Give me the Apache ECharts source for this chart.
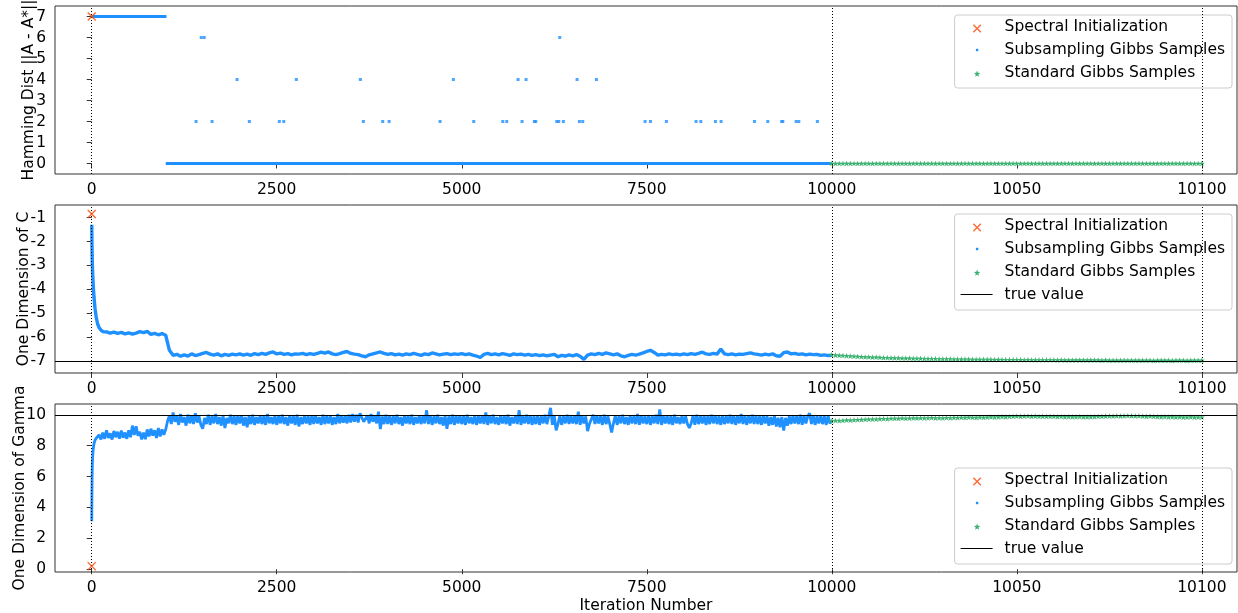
<!DOCTYPE html>
<html>
<head>
<meta charset="utf-8">
<script src="https://cdn.jsdelivr.net/npm/echarts@6.0.0/dist/echarts.min.js"></script>
<style>
html,body{margin:0;padding:0;background:#fff;}
#chart{width:1238px;height:613px;}
</style>
</head>
<body>
<div id="chart"></div>
<script>
// ---------------- data ----------------
const xTickLabels = [0, 2500, 5000, 7500, 10000, 10050, 10100];
const breakAt = 10000;      // iteration where the axis switches scale
const zoomFactor = 50;      // right-hand section is stretched 50x
const refLines = [0, 10000, 10100];
const seriesNames = ['Spectral Initialization', 'Subsampling Gibbs Samples', 'Standard Gibbs Samples', 'true value'];

// Panel 1: Hamming distance
const hamTicks = [0, 1, 2, 3, 4, 5, 6, 7];
const hamInit = [[0, 7]];
const hamRuns = [[0, 1010, 7], [1000, 10000, 0]];
const hamOutliers = [[1410,2],[1480,6],[1520,6],[1626,2],[1964,4],[2130,2],[2535,2],[2595,2],[2765,4],[3630,4],[3670,2],[3932,2],[4018,2],[4707,2],[4887,4],[5162,2],[5554,2],[5608,2],[5761,4],[5815,2],[5869,4],[5981,2],[6000,2],[6284,2],[6311,2],[6324,6],[6373,2],[6558,4],[6590,2],[6635,2],[6820,4],[7477,2],[7549,2],[7765,2],[8166,2],[8230,2],[8427,2],[8504,2],[8955,2],[9135,2],[9324,2],[9338,2],[9518,2],[9554,2],[9805,2]];
const stdStart = 10000;
const hamStd = [
  0,0,0,0,0,0,0,0,0,0, 0,0,0,0,0,0,0,0,0,0, 0,0,0,0,0,0,0,0,0,0, 0,0,0,0,0,0,0,0,0,0,
  0,0,0,0,0,0,0,0,0,0, 0,0,0,0,0,0,0,0,0,0, 0,0,0,0,0,0,0,0,0,0, 0,0,0,0,0,0,0,0,0,0,
  0,0,0,0,0,0,0,0,0,0, 0,0,0,0,0,0,0,0,0,0, 0
];

// Panel 2: one dimension of C
const cTicks = [-7, -6, -5, -4, -3, -2, -1];
const cInit = [[0, -0.85]];
const cTrue = -7;
const cEarly = [[1,-1.3],[2,-1.6],[3,-1.9],[4,-2.2],[6,-2.6],[9,-3.0],[14,-3.4],[20,-3.8],[30,-4.3],[45,-4.8],[60,-5.15],[80,-5.45],[100,-5.6],[130,-5.72],[160,-5.78]];
const cStart = 200, cStep = 50;
const cBlue = [
  -5.78,-5.83,-5.79,-5.84,-5.80,-5.86,-5.82,-5.87,-5.83,-5.77,-5.81,-5.76,-5.88,-5.84,-5.90,-5.85,
  -5.92,-6.55,-6.76,-6.72,-6.80,-6.74,-6.79,-6.70,-6.77,-6.73,-6.68,-6.64,-6.71,-6.75,-6.70,-6.78,-6.72,-6.76,-6.71,-6.74,
  -6.70,-6.75,-6.71,-6.76,-6.69,-6.73,-6.68,-6.72,-6.66,-6.62,-6.70,-6.67,-6.72,-6.69,-6.74,-6.70,-6.71,-6.68,-6.73,-6.69,
  -6.72,-6.68,-6.63,-6.67,-6.62,-6.70,-6.73,-6.69,-6.64,-6.60,-6.68,-6.71,-6.73,-6.78,-6.82,-6.74,-6.70,-6.66,-6.62,-6.68,
  -6.72,-6.69,-6.74,-6.71,-6.75,-6.70,-6.73,-6.68,-6.72,-6.76,-6.70,-6.73,-6.66,-6.70,-6.74,-6.71,-6.69,-6.73,-6.70,-6.72,
  -6.69,-6.73,-6.70,-6.75,-6.79,-6.85,-6.72,-6.68,-6.73,-6.70,-6.74,-6.69,-6.72,-6.76,-6.70,-6.73,-6.71,-6.75,-6.72,-6.76,
  -6.73,-6.77,-6.74,-6.78,-6.75,-6.72,-6.82,-6.76,-6.79,-6.74,-6.78,-6.73,-6.80,-6.93,-6.75,-6.70,-6.73,-6.68,-6.72,-6.66,
  -6.70,-6.74,-6.70,-6.78,-6.82,-6.76,-6.72,-6.75,-6.71,-6.66,-6.60,-6.55,-6.64,-6.75,-6.72,-6.74,-6.70,-6.73,-6.71,-6.74,
  -6.70,-6.73,-6.69,-6.72,-6.68,-6.63,-6.70,-6.72,-6.68,-6.71,-6.50,-6.70,-6.73,-6.70,-6.74,-6.71,-6.72,-6.69,-6.66,-6.70,
  -6.72,-6.75,-6.71,-6.74,-6.70,-6.78,-6.80,-6.65,-6.62,-6.70,-6.68,-6.72,-6.70,-6.74,-6.71,-6.73,-6.72,-6.76,-6.74,-6.77,
  -6.76
];
const cStd = [
  -6.73,-6.75,-6.76,-6.77,-6.78,-6.79,-6.80,-6.81,-6.82,-6.83,
  -6.83,-6.84,-6.84,-6.85,-6.86,-6.86,-6.87,-6.87,-6.87,-6.88,
  -6.88,-6.88,-6.89,-6.89,-6.89,-6.90,-6.90,-6.90,-6.90,-6.91,
  -6.91,-6.91,-6.91,-6.92,-6.92,-6.92,-6.92,-6.92,-6.93,-6.93,
  -6.93,-6.93,-6.93,-6.93,-6.94,-6.93,-6.94,-6.94,-6.94,-6.94,
  -6.94,-6.94,-6.95,-6.94,-6.95,-6.95,-6.95,-6.95,-6.95,-6.95,
  -6.95,-6.96,-6.95,-6.96,-6.96,-6.96,-6.96,-6.96,-6.96,-6.96,
  -6.96,-6.96,-6.96,-6.97,-6.96,-6.97,-6.97,-6.97,-6.97,-6.97,
  -6.97,-6.97,-6.97,-6.97,-6.97,-6.97,-6.97,-6.98,-6.97,-6.97,
  -6.97,-6.97,-6.98,-6.97,-6.97,-6.97,-6.98,-6.97,-6.97,-6.97,
  -6.97
];

// Panel 3: one dimension of Gamma
const gTicks = [0, 2, 4, 6, 8, 10];
const gInit = [[0, 0.2]];
const gTrue = 10;
const gEarly = [[1,3.1],[2,4.0],[3,4.7],[4,5.3],[5,5.8],[6,6.2],[8,6.6],[10,7.0],[13,7.3],[17,7.6],[22,7.85],[30,8.1],[40,8.3],[55,8.45],[75,8.55]];
const gStart = 100, gStep = 25;
const gBlue = [
  8.70,8.40,8.85,8.45,9.00,8.50,8.80,8.40,8.95,8.55,8.90,8.45,8.98,8.52,8.85,8.45,
  9.00,8.55,9.30,8.70,9.25,8.65,8.90,8.40,8.85,8.42,9.05,8.60,9.10,8.65,9.00,8.50,9.15,8.60,9.05,8.70,
  9.05,9.60,9.95,9.40,10.15,9.55,9.90,9.35,10.05,9.50,9.85,9.30,10.00,9.45,9.95,9.40,10.10,9.50,9.90,9.35,
  9.10,9.80,9.40,10.00,9.35,9.90,9.45,10.05,9.40,9.85,9.30,9.95,9.15,9.80,9.45,10.00,9.40,9.90,9.35,9.95,
  9.45,9.95,9.30,9.85,9.20,9.90,9.40,10.00,9.35,9.85,9.45,9.95,9.40,9.90,9.35,10.05,9.45,9.85,9.40,9.95,
  9.35,9.90,9.45,10.00,9.40,9.85,9.30,9.95,9.45,9.90,9.35,10.00,9.25,9.85,9.40,9.95,9.45,9.90,9.35,9.95,
  9.40,9.95,9.45,9.85,9.35,10.00,9.40,9.90,9.45,9.95,9.35,9.85,9.40,10.05,9.45,9.90,9.50,9.95,9.45,10.00,
  9.50,10.05,9.55,10.00,9.50,10.10,10.20,9.55,9.50,9.95,9.45,10.05,9.55,9.95,9.45,10.20,9.07,9.90,9.40,10.00,
  9.40,9.95,9.35,9.90,9.45,10.00,9.40,9.85,9.30,9.95,9.45,9.90,9.40,10.00,9.35,9.85,9.45,9.95,9.40,9.90,
  9.45,10.30,9.40,9.95,9.35,9.90,9.45,10.00,9.40,9.85,9.30,9.95,9.10,9.90,9.40,10.00,9.35,9.90,9.45,9.95,
  9.40,9.90,9.35,10.00,9.45,9.85,9.40,9.95,9.35,9.90,9.45,9.95,9.40,10.15,9.35,9.90,9.45,10.00,9.40,9.85,
  9.35,9.95,9.45,9.90,9.40,10.00,9.30,9.85,9.45,9.95,9.40,10.30,9.35,9.90,9.45,10.00,9.40,9.95,9.35,9.90,
  9.40,9.95,9.35,9.90,9.45,10.00,9.40,9.90,10.45,9.35,9.95,9.00,9.40,9.95,9.35,9.90,9.45,10.00,9.40,9.95,
  9.45,9.90,9.40,10.20,9.35,9.95,9.45,9.90,8.95,9.40,9.35,10.00,9.40,9.95,9.45,9.90,9.35,10.00,9.40,9.90,
  9.40,8.85,9.45,9.95,9.35,9.90,9.45,10.00,9.40,9.85,9.35,9.95,9.45,9.90,9.40,10.05,9.35,9.95,9.45,9.90,
  9.40,9.95,9.35,9.90,9.45,10.00,9.40,10.35,9.35,9.90,9.45,9.95,9.40,9.90,9.35,10.00,9.45,9.85,9.40,9.95,
  9.45,9.90,9.40,9.15,9.45,9.95,9.35,10.00,9.40,9.90,9.45,9.95,9.35,9.90,9.40,10.00,9.45,9.95,9.40,9.90,
  9.35,9.95,9.40,9.90,9.45,10.00,9.40,9.95,9.35,9.90,9.45,10.05,9.40,9.95,9.35,9.90,9.45,10.00,9.40,9.95,
  9.40,9.90,9.35,9.95,9.45,9.90,9.30,9.85,9.35,9.95,9.25,9.80,9.20,9.85,8.98,9.80,9.30,9.90,9.40,9.95,
  9.45,9.90,9.40,10.00,9.35,9.95,9.45,9.90,10.10,9.40,9.95,9.35,9.90,9.45,9.95,9.40,9.90,9.35,9.95,9.45,
  9.60
];
const gStd = [
  9.61,9.63,9.62,9.64,9.66,9.65,9.67,9.68,9.69,9.70,
  9.71,9.72,9.72,9.74,9.75,9.74,9.76,9.77,9.76,9.78,
  9.77,9.78,9.79,9.78,9.80,9.79,9.80,9.81,9.79,9.80,
  9.79,9.81,9.80,9.82,9.81,9.83,9.82,9.84,9.83,9.82,
  9.84,9.83,9.85,9.86,9.85,9.87,9.88,9.87,9.89,9.90,
  9.91,9.90,9.91,9.92,9.90,9.91,9.89,9.90,9.89,9.90,
  9.89,9.88,9.89,9.87,9.88,9.87,9.86,9.88,9.87,9.86,
  9.87,9.88,9.89,9.90,9.91,9.92,9.91,9.93,9.92,9.93,
  9.94,9.93,9.92,9.93,9.91,9.90,9.91,9.89,9.88,9.87,
  9.88,9.86,9.87,9.85,9.86,9.84,9.85,9.86,9.84,9.85,
  9.85
];

// ---------------- helpers ----------------
const FONT = 'DejaVu Sans';
const FS = 15.5;
const BLUE = '#1E90FF', GREEN = '#3CB371', RED = '#FF4500';
const T = x => (x <= breakAt ? x : breakAt + (x - breakAt) * zoomFactor);
const labelOf = {};
xTickLabels.forEach(v => { labelOf[T(v)] = String(v); });

function crossPath(cx, cy, a, e) {
  const p = [[cx-a,cy-a+e],[cx-a+e,cy-a],[cx,cy-e],[cx+a-e,cy-a],[cx+a,cy-a+e],[cx+e,cy],
             [cx+a,cy+a-e],[cx+a-e,cy+a],[cx,cy+e],[cx-a+e,cy+a],[cx-a,cy+a-e],[cx-e,cy]];
  return 'M' + p.map(q => q[0].toFixed(2) + ',' + q[1].toFixed(2)).join('L') + 'Z';
}
function starPath(cx, cy, R, r) {
  let s = '';
  for (let k = 0; k < 10; k++) {
    const ang = -Math.PI / 2 + k * Math.PI / 5;
    const rad = k % 2 === 0 ? R : r;
    s += (k === 0 ? 'M' : 'L') + (cx + rad * Math.cos(ang)).toFixed(2) + ',' + (cy + rad * Math.sin(ang)).toFixed(2);
  }
  return s + 'Z';
}
const X_SYMBOL = 'path://' + crossPath(5, 5, 5, 1.1);
const STAR_SYMBOL = 'path://' + starPath(10, 10, 10, 4);
const BOX = 'M0,0M45,20';
const legendIcons = {
  'Spectral Initialization': 'path://' + BOX + crossPath(22.5, 11.5, 4.2, 1.0),
  'Subsampling Gibbs Samples': 'path://' + BOX + 'M21.3,8.8L23.7,8.8L23.7,11.2L21.3,11.2Z',
  'Standard Gibbs Samples': 'path://' + BOX + starPath(22.5, 11, 3.4, 1.4),
  'true value': 'path://' + BOX + 'M6,8.9L38,8.9L38,10.1L6,10.1Z'
};

const seq = (start, step, vals) => vals.map((v, i) => [T(start + i * step), v]);
const pts = arr => arr.map(p => [T(p[0]), p[1]]);

const grids = [
  {left: 55, right: 1, top: 6, height: 168},
  {left: 55, right: 1, top: 205, height: 168},
  {left: 55, right: 1, top: 404, height: 168}
].map(g => Object.assign(g, {show: true, borderColor: '#333', borderWidth: 1, backgroundColor: 'transparent',
                             containLabel: false, outerBoundsMode: 'none'}));

const xMin = T(-496), xMax = T(10109.5);
const xTickPos = xTickLabels.map(T);

function xAxisFor(i) {
  return {
    type: 'value', gridIndex: i, min: xMin, max: xMax,
    axisLine: {show: false}, splitLine: {show: false},
    axisTick: {show: true, length: 5, lineStyle: {color: '#333'}, customValues: xTickPos},
    axisLabel: {customValues: xTickPos, formatter: v => labelOf[v] !== undefined ? labelOf[v] : '',
                fontSize: FS, color: '#000', fontFamily: FONT, margin: 8},
    name: i === 2 ? 'Iteration Number' : '', nameLocation: 'middle', nameGap: 26, nameMoveOverlap: false,
    nameTextStyle: {fontSize: FS, color: '#000', fontFamily: FONT}
  };
}
function yAxisFor(i, ticks, min, max, name, gap) {
  return {
    type: 'value', gridIndex: i, min: min, max: max,
    name: name, nameLocation: 'middle', nameGap: gap, nameRotate: 90, nameMoveOverlap: false,
    nameTextStyle: {fontSize: FS, color: '#000', fontFamily: FONT},
    axisLine: {show: false}, splitLine: {show: false},
    axisTick: {show: true, length: 5, lineStyle: {color: '#333'}, customValues: ticks},
    axisLabel: {customValues: ticks, fontSize: FS, color: '#000', fontFamily: FONT, margin: 9}
  };
}
function vLines() {
  return {silent: true, symbol: 'none', animation: false, label: {show: false},
          emphasis: {disabled: true},
          lineStyle: {color: '#000', type: [1, 2], width: 1},
          data: refLines.map(v => ({xAxis: T(v)}))};
}
function trueLine(i, v) {
  return {name: 'true value', type: 'line', xAxisIndex: i, yAxisIndex: i, data: [], z: 6,
          symbol: 'none', itemStyle: {color: '#000'}, lineStyle: {color: '#000', width: 1.2},
          markLine: {silent: true, symbol: 'none', animation: false, label: {show: false},
                     emphasis: {disabled: true},
                     lineStyle: {color: '#000', type: 'solid', width: 1.2}, data: [{yAxis: v}]}};
}
function blueLine(i, data, w) {
  return {name: 'Subsampling Gibbs Samples', type: 'line', xAxisIndex: i, yAxisIndex: i, data: data,
          showSymbol: false, symbol: 'none', silent: true, z: 2,
          itemStyle: {color: BLUE}, lineStyle: {color: BLUE, width: w}};
}
function greenStars(i, vals) {
  return {name: 'Standard Gibbs Samples', type: 'scatter', xAxisIndex: i, yAxisIndex: i,
          data: seq(stdStart, 1, vals), symbol: STAR_SYMBOL, symbolKeepAspect: true, symbolSize: 6,
          silent: true, z: 3, itemStyle: {color: GREEN, opacity: 1}};
}
function redX(i, data) {
  return {name: 'Spectral Initialization', type: 'scatter', xAxisIndex: i, yAxisIndex: i,
          data: pts(data), symbol: X_SYMBOL, symbolSize: 9, silent: true, z: 7,
          itemStyle: {color: RED}, markLine: vLines()};
}

const series = [];
// panel 1
hamRuns.forEach(r => series.push(blueLine(0, [[T(r[0]), r[2]], [T(r[1]), r[2]]], 3)));
series.push({name: 'Subsampling Gibbs Samples', type: 'scatter', xAxisIndex: 0, yAxisIndex: 0,
             data: pts(hamOutliers), symbol: 'rect', symbolSize: 3, silent: true, z: 2,
             itemStyle: {color: BLUE}});
series.push(greenStars(0, hamStd));
series.push(redX(0, hamInit));
// panel 2
series.push(blueLine(1, pts(cEarly).concat(seq(cStart, cStep, cBlue)), 3.4));
series.push(greenStars(1, cStd));
series.push(trueLine(1, cTrue));
series.push(redX(1, cInit));
// panel 3
series.push(blueLine(2, pts(gEarly).concat(seq(gStart, gStep, gBlue)), 2.8));
series.push(greenStars(2, gStd));
series.push(trueLine(2, gTrue));
series.push(redX(2, gInit));

function legendFor(top, names) {
  return {
    orient: 'vertical', right: 6, top: top, selectedMode: false,
    itemWidth: 45, itemHeight: 20, itemGap: 3, padding: [2, 7, 5, 0],
    backgroundColor: 'rgba(255,255,255,0.8)', borderColor: '#cccccc', borderWidth: 1, borderRadius: 3,
    itemStyle: {borderWidth: 0},
    textStyle: {fontSize: FS, color: '#000', fontFamily: FONT},
    data: names.map(n => ({name: n, icon: legendIcons[n]}))
  };
}

const option = {
  animation: false,
  backgroundColor: '#fff',
  textStyle: {fontFamily: FONT},
  grid: grids,
  xAxis: [xAxisFor(0), xAxisFor(1), xAxisFor(2)],
  yAxis: [
    yAxisFor(0, hamTicks, -0.5, 7.5, 'Hamming Dist ||A - A*||', 18),
    yAxisFor(1, cTicks, -7.5, -0.47, 'One Dimension of C', 23),
    yAxisFor(2, gTicks, -0.18, 10.7, 'One Dimension of Gamma', 27)
  ],
  legend: [
    legendFor(15, seriesNames.slice(0, 3)),
    legendFor(214, seriesNames),
    legendFor(468, seriesNames)
  ],
  series: series
};

const chart = echarts.init(document.getElementById('chart'), null, {renderer: 'canvas'});
chart.setOption(option);
</script>
</body>
</html>
